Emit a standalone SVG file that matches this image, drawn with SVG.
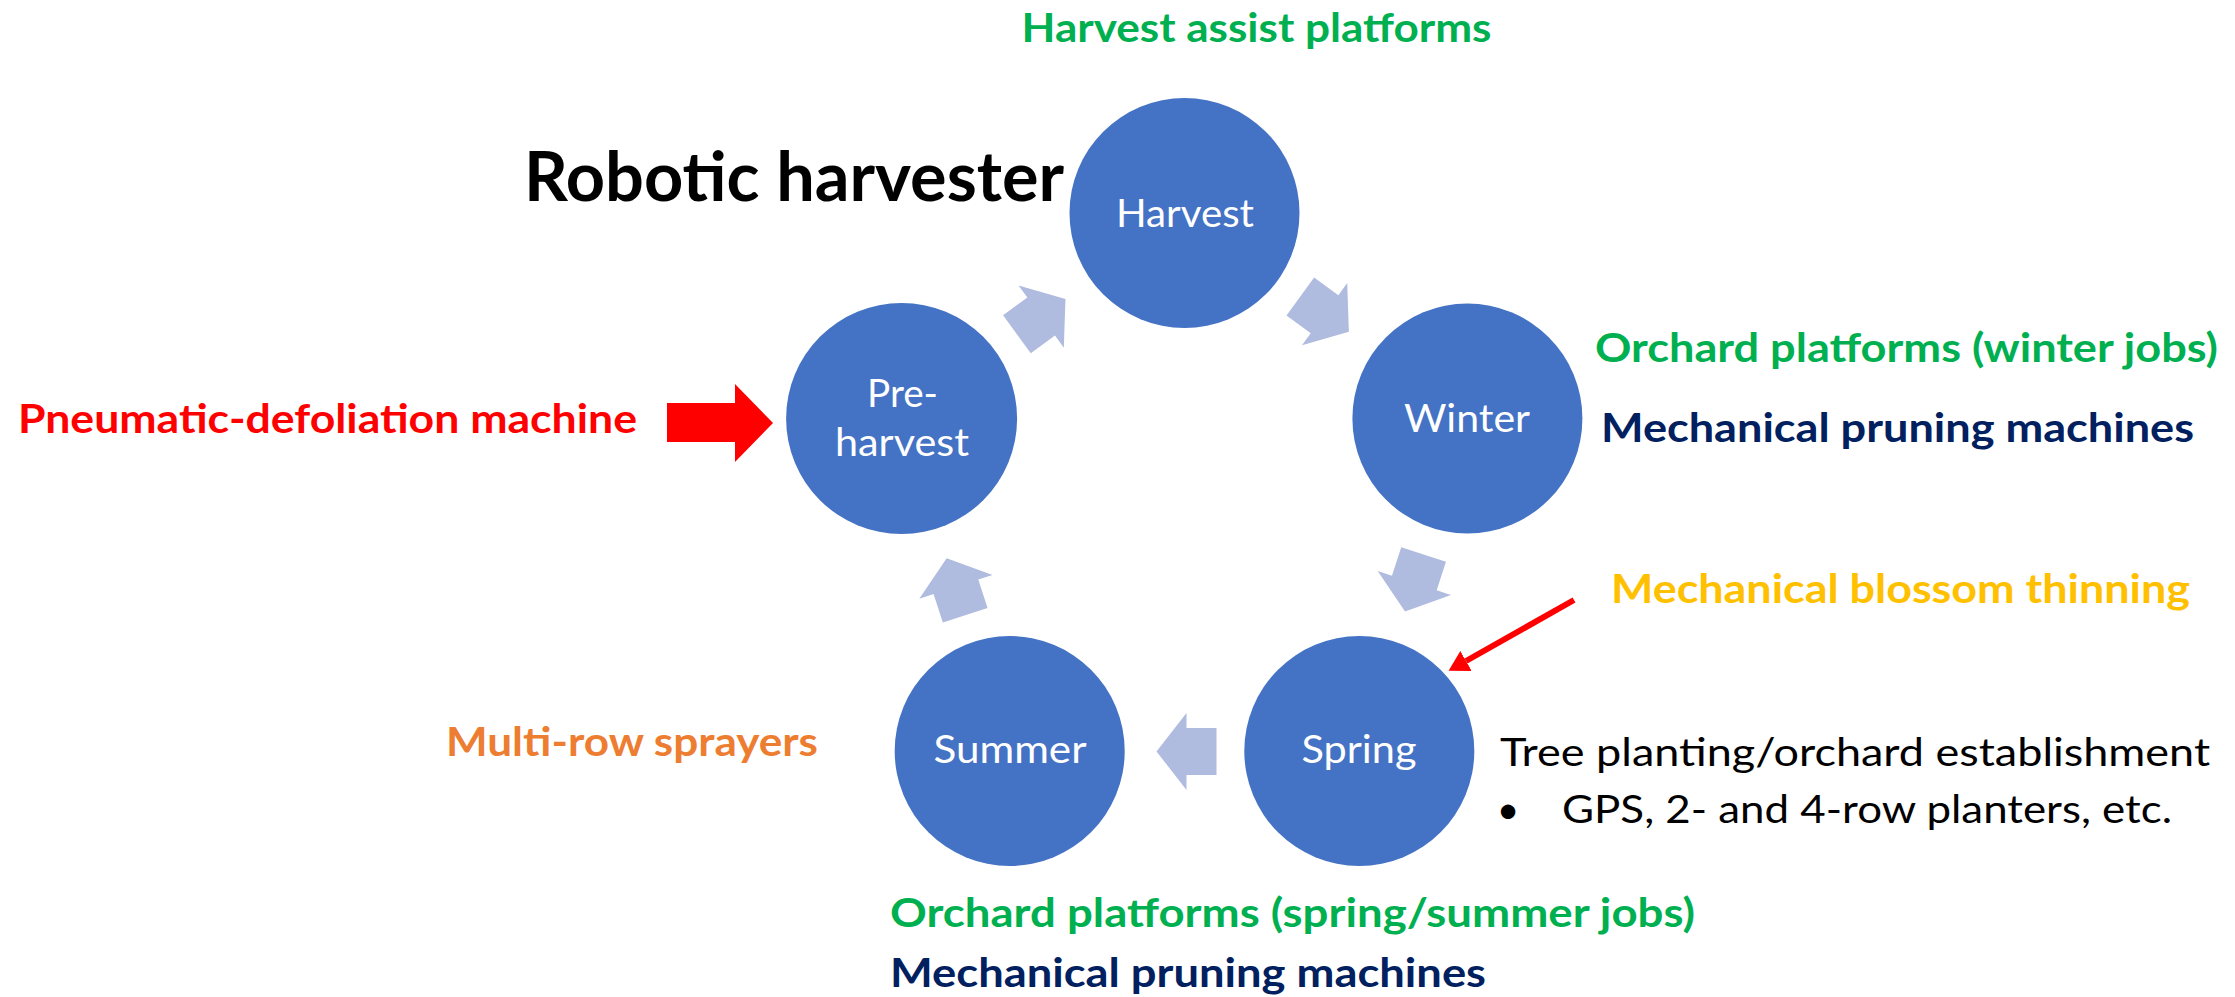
<svg xmlns="http://www.w3.org/2000/svg" xmlns:xlink="http://www.w3.org/1999/xlink" width="2235" height="997" viewBox="0 0 2235 997">
  <style>
    .node { fill: #4472C4; }
    .lbl { font-family: Lato, "Liberation Sans", sans-serif; font-size: 39px; fill: #FFFFFF; text-anchor: middle; }
    .b { font-family: Lato, "Liberation Sans", sans-serif; font-weight: bold; font-size: 41px; }
    .title { font-family: Lato, "Liberation Sans", sans-serif; font-weight: bold; font-size: 69px; fill: #000000; }
    .r { font-family: Lato, "Liberation Sans", sans-serif; font-size: 39px; fill: #000000; }
    .green { fill: #00B050; }
    .navy { fill: #002060; }
    .yellow { fill: #FFC000; }
    .orange { fill: #ED7D31; }
    .red { fill: #FF0000; }
    .cyc { fill: #AFBBDF; }
  </style>
  <defs>
    <polygon id="cyc-arrow" points="-32,-23.5 -2,-23.5 -2,-38.5 28,0 -2,38.5 -2,23.5 -32,23.5"/>
    <marker id="redhead" markerUnits="userSpaceOnUse" viewBox="0 0 20 23" markerWidth="20" markerHeight="23" refX="0" refY="11.5" orient="auto">
      <path d="M0,0 L20,11.5 L0,23 Z" fill="#FF0000"/>
    </marker>
  </defs>

  <g id="connectors">
    <use href="#cyc-arrow" class="cyc" transform="translate(1326.2,315.4) rotate(36)"/>
    <use href="#cyc-arrow" class="cyc" transform="translate(1413.7,584.9) rotate(108)"/>
    <use href="#cyc-arrow" class="cyc" transform="translate(1184.5,751.4) rotate(180)"/>
    <use href="#cyc-arrow" class="cyc" transform="translate(955.3,584.9) rotate(252)"/>
    <use href="#cyc-arrow" class="cyc" transform="translate(1042.8,315.4) rotate(324)"/>
    <polygon class="red" points="667,403 735,403 735,384 773,423 735,462 735,442 667,442"/>
    <line x1="1574" y1="600" x2="1466" y2="661" stroke="#FF0000" stroke-width="6" marker-end="url(#redhead)"/>
  </g>

  <g id="node-harvest">
    <circle class="node" cx="1184.5" cy="213" r="115"/>
    <text class="lbl" x="1185" y="227" textLength="138" lengthAdjust="spacingAndGlyphs">Harvest</text>
  </g>
  <g id="node-winter">
    <circle class="node" cx="1467.4" cy="418.5" r="115"/>
    <text class="lbl" x="1467" y="432" textLength="126" lengthAdjust="spacingAndGlyphs">Winter</text>
  </g>
  <g id="node-spring">
    <circle class="node" cx="1359.3" cy="751" r="115"/>
    <text class="lbl" x="1359" y="763" textLength="115" lengthAdjust="spacingAndGlyphs">Spring</text>
  </g>
  <g id="node-summer">
    <circle class="node" cx="1009.7" cy="751" r="115"/>
    <text class="lbl" x="1010" y="763" textLength="153" lengthAdjust="spacingAndGlyphs">Summer</text>
  </g>
  <g id="node-preharvest">
    <circle class="node" cx="901.6" cy="418.5" r="115.5"/>
    <text class="lbl" x="902.5" y="407" textLength="71" lengthAdjust="spacingAndGlyphs">Pre-</text>
    <text class="lbl" x="902" y="456" textLength="134" lengthAdjust="spacingAndGlyphs">harvest</text>
  </g>

  <g id="annotations">
    <text class="b green" x="1021.5" y="42" textLength="470" lengthAdjust="spacingAndGlyphs">Harvest assist platforms</text>
    <text class="title" x="524" y="201" textLength="540" lengthAdjust="spacingAndGlyphs">Robotic harvester</text>
    <text class="b green" x="1595" y="362" textLength="623" lengthAdjust="spacingAndGlyphs">Orchard platforms (winter jobs)</text>
    <text class="b navy" x="1601" y="442" textLength="593" lengthAdjust="spacingAndGlyphs">Mechanical pruning machines</text>
    <text class="b red" x="18" y="433" textLength="619" lengthAdjust="spacingAndGlyphs">Pneumatic-defoliation machine</text>
    <text class="b yellow" x="1611" y="603" textLength="579" lengthAdjust="spacingAndGlyphs">Mechanical blossom thinning</text>
    <text class="b orange" x="446" y="756" textLength="372" lengthAdjust="spacingAndGlyphs">Multi-row sprayers</text>
    <text class="b green" x="890" y="927" textLength="805" lengthAdjust="spacingAndGlyphs">Orchard platforms (spring/summer jobs)</text>
    <text class="b navy" x="890" y="987" textLength="596" lengthAdjust="spacingAndGlyphs">Mechanical pruning machines</text>
    <text class="r" x="1500" y="766" textLength="710" lengthAdjust="spacingAndGlyphs">Tree planting/orchard establishment</text>
    <text class="r" x="1508" y="823" text-anchor="middle">•</text>
    <text class="r" x="1562" y="823" textLength="610" lengthAdjust="spacingAndGlyphs">GPS, 2- and 4-row planters, etc.</text>
  </g>
</svg>
